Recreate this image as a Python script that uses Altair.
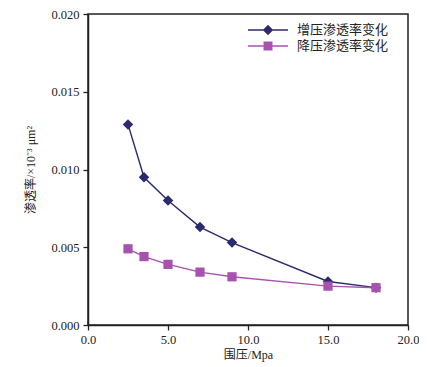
import altair as alt
import pandas as pd

pressure = [2.5, 3.5, 5.0, 7.0, 9.0, 15.0, 18.0]
perm_up = [0.0129, 0.0095, 0.0080, 0.0063, 0.0053, 0.0028, 0.0024]
perm_down = [0.0049, 0.0044, 0.0039, 0.0034, 0.0031, 0.0025, 0.0024]
series = ["增压渗透率变化", "降压渗透率变化"]
colors = ["#2b2a6e", "#a852b0"]

df = pd.DataFrame(
    {"p": pressure * 2, "k": perm_up + perm_down,
     "s": [series[0]] * len(pressure) + [series[1]] * len(pressure)}
)

FONT = "Liberation Serif, Noto Sans CJK SC"

cscale = alt.Scale(domain=series, range=colors)
legend_paths = [
    "M-2.5,-0.09H2.5V0.09H-2.5Z M0,-0.65L0.65,0L0,0.65L-0.65,0Z",
    "M-2.5,-0.09H2.5V0.09H-2.5Z M-0.56,-0.56H0.56V0.56H-0.56Z",
]
leg = alt.Legend(
    title=None, orient="none", legendX=172, legendY=8,
    labelFont=FONT, labelFontSize=13, labelColor="#222",
    symbolSize=256, rowPadding=1, labelOffset=21, symbolStrokeWidth=0,
    symbolOpacity=1)
color = alt.Color("s:N", scale=cscale, legend=leg)

x = alt.X("p:Q", title="围压/Mpa",
          scale=alt.Scale(domain=[0, 20], nice=False),
          axis=alt.Axis(values=[0, 5, 10, 15, 20], format=".1f", grid=False, labelFlush=False))
y = alt.Y("k:Q", title="渗透率/×10⁻³ μm²",
          scale=alt.Scale(domain=[0, 0.02], nice=False),
          axis=alt.Axis(values=[0, 0.005, 0.01, 0.015, 0.02], format=".3f", grid=False,
                        labelFlush=False))

base = alt.Chart(df)

lines = base.mark_line(strokeWidth=1.4).encode(x=x, y=y, color=color)
pts_up = base.transform_filter(alt.datum.s == series[0]).mark_point(
    filled=True, opacity=1, shape="diamond", size=110).encode(x=x, y=y, color=color)
pts_down = base.transform_filter(alt.datum.s == series[1]).mark_point(
    filled=True, opacity=1, shape="square", size=85).encode(x=x, y=y, color=color)
legend_layer = base.transform_filter(alt.datum.p < 0).mark_point(filled=True, opacity=1).encode(
    x=x, y=y, color=color,
    shape=alt.Shape("s:N", scale=alt.Scale(domain=series, range=legend_paths), legend=leg),
)

chart = (
    alt.layer(lines, pts_up, pts_down, legend_layer)
    .properties(width=320, height=311,
                autosize=alt.AutoSizeParams(type="none"),
                padding={"left": 80, "top": 6, "right": 11, "bottom": 42},
                background="white")
    .configure_view(stroke="#222", strokeWidth=1.5)
    .configure_axis(
        labelFont=FONT, titleFont=FONT, labelFontSize=12.5, titleFontSize=12,
        titleFontWeight="normal", labelColor="#222", titleColor="#222",
        domainColor="#222", tickColor="#222", domainWidth=1.5, tickWidth=1.3, tickSize=5,
        labelPadding=3,
    )
    .configure_axisY(titlePadding=13, labelPadding=4)
    .configure_axisX(titlePadding=4)
)

chart.save("out.html", embed_options={"renderer": "svg", "actions": False})
